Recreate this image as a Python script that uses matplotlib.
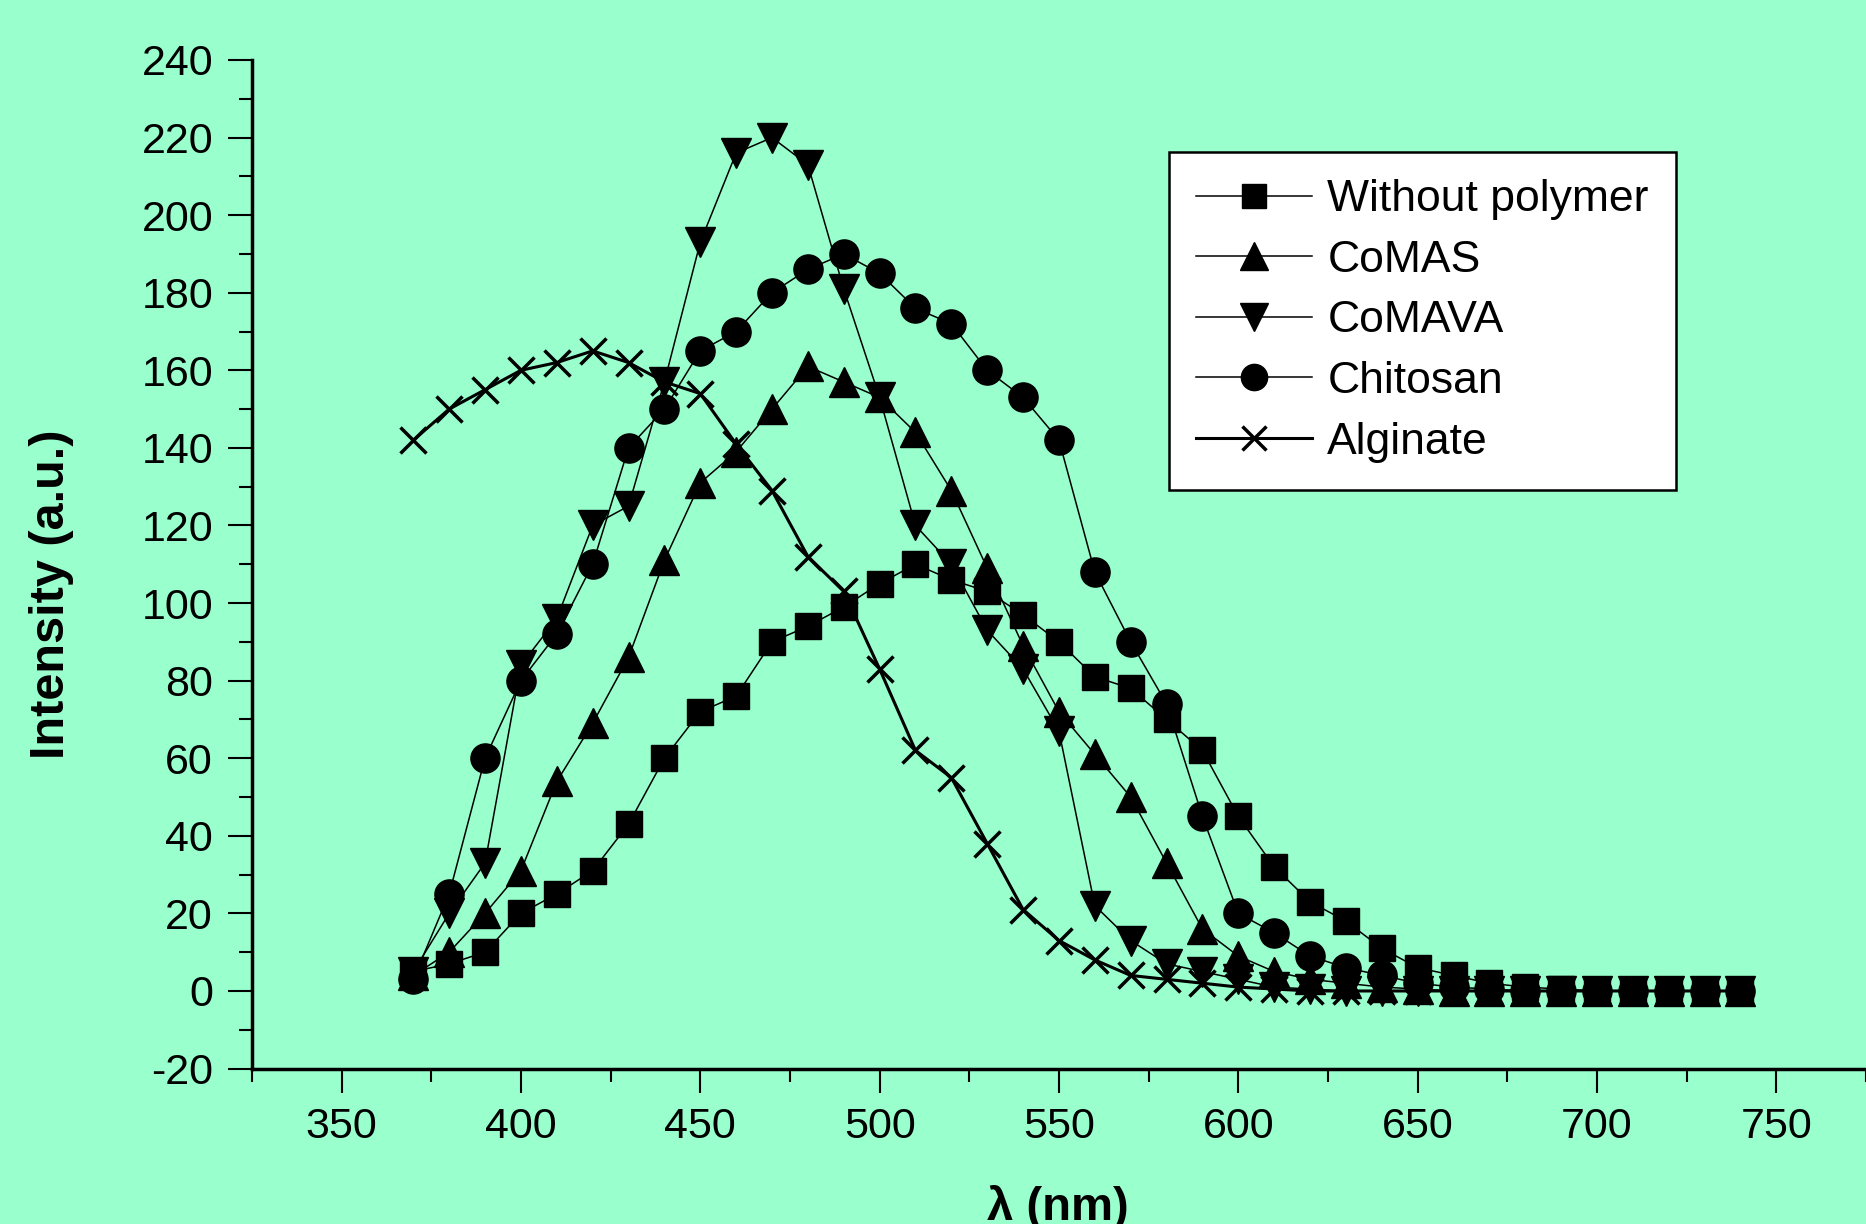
import matplotlib
matplotlib.use("Agg")
import matplotlib.pyplot as plt
from matplotlib.ticker import MultipleLocator

wavelength = list(range(370, 750, 10))

without_polymer = [5, 7, 10, 20, 25, 31, 43, 60, 72, 76, 90, 94, 99, 105, 110, 106, 103, 97, 90,
                   81, 78, 70, 62, 45, 32, 23, 18, 11, 6, 4, 2, 1, 0.5, 0, 0, 0, 0, 0]
comas = [4, 10, 20, 31, 54, 69, 86, 111, 131, 139, 150, 161, 157, 153, 144, 129, 109, 89, 72,
         61, 50, 33, 16, 9, 5, 3, 2, 1, 0.5, 0, 0, 0, 0, 0, 0, 0, 0, 0]
comava = [5, 20, 33, 84, 96, 120, 125, 157, 193, 216, 220, 213, 181, 153, 120, 110, 93, 83, 67,
          22, 13, 7, 5, 3, 1, 0.5, 0, 0, 0, 0, 0, 0, 0, 0, 0, 0, 0, 0]
chitosan = [3, 25, 60, 80, 92, 110, 140, 150, 165, 170, 180, 186, 190, 185, 176, 172, 160, 153, 142,
            108, 90, 74, 45, 20, 15, 9, 6, 4, 2, 1, 0.5, 0, 0, 0, 0, 0, 0, 0]
alginate = [142, 150, 155, 160, 162, 165, 162, 157, 154, 141, 129, 112, 103, 83, 62, 55, 38, 21, 13,
            8, 4, 3, 2, 1, 0.5, 0, 0, 0, 0, 0, 0, 0, 0, 0, 0, 0, 0, 0]

bg = "#99FFCC"
plt.rcParams["font.family"] = ["Liberation Sans", "DejaVu Sans"]
plt.rcParams["axes.unicode_minus"] = False

fig = plt.figure(figsize=(18.66, 12.24), dpi=100, facecolor=bg)
ax = fig.add_axes([0.135, 0.127, 0.865, 0.824])
ax.set_facecolor(bg)

ax.plot(wavelength, without_polymer, color="k", lw=1.1, marker="s", ms=19, label="Without polymer")
ax.plot(wavelength, comas, color="k", lw=1.1, marker="^", ms=22, label="CoMAS")
ax.plot(wavelength, comava, color="k", lw=1.1, marker="v", ms=22, label="CoMAVA")
ax.plot(wavelength, chitosan, color="k", lw=1.1, marker="o", ms=21, label="Chitosan")
ax.plot(wavelength, alginate, color="k", lw=2.2, marker="x", ms=19, mew=2.5, label="Alginate")

ax.set_xlim(325, 775)
ax.set_ylim(-20, 240)
ax.xaxis.set_major_locator(MultipleLocator(50))
ax.xaxis.set_minor_locator(MultipleLocator(25))
ax.yaxis.set_major_locator(MultipleLocator(20))
ax.yaxis.set_minor_locator(MultipleLocator(10))

for s in ["top", "right"]:
    ax.spines[s].set_visible(False)
for s in ["left", "bottom"]:
    ax.spines[s].set_linewidth(2.5)

ax.tick_params(which="major", length=17, width=1.5, labelsize=31, pad=11, direction="out")
ax.tick_params(which="minor", length=9.5, width=1.5, direction="out")

ax.set_ylabel("Intensity (a.u.)", fontsize=35, fontweight="bold")
ax.yaxis.set_label_coords(-0.11, 0.47)
fig.text(0.567, -0.005, "λ (nm)", fontsize=34, fontweight="bold", ha="center", va="bottom")

leg = ax.legend(loc="upper left", bbox_to_anchor=(0.568, 0.909), fontsize=32,
                frameon=True, fancybox=False, edgecolor="k", facecolor="white", framealpha=1,
                handlelength=2.6, handletextpad=0.35, labelspacing=0.44, borderpad=0.62,
                borderaxespad=0, markerscale=0.9)
leg.get_frame().set_linewidth(1.8)

fig.savefig("out.png", dpi=100, facecolor=bg)
